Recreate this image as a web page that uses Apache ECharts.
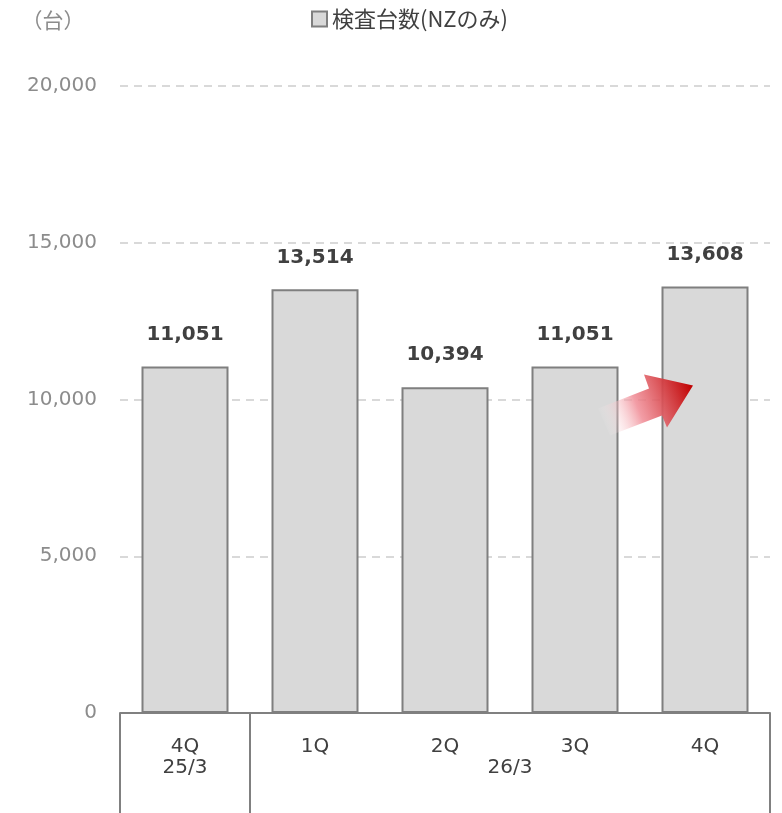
<!DOCTYPE html>
<html>
<head>
<meta charset="utf-8">
<script src="https://cdn.jsdelivr.net/npm/echarts@6/dist/echarts.min.js"></script>
<style>
  html, body { margin: 0; padding: 0; background: #fff; }
  #chart { width: 782px; height: 813px; }
</style>
</head>
<body>
<div id="chart"></div>
<script>
// Quarterly inspection counts (New Zealand only)
const quarters = ['4Q', '1Q', '2Q', '3Q', '4Q'];
const fiscalYears = ['25/3', '26/3'];
const yearSpans = [1, 4];            // number of quarters under each fiscal year
const inspections = [11051, 13514, 10394, 11051, 13608];
const seriesName = '検査台数(NZのみ)';
const unitLabel = '（台）';

const FONT = '"DejaVu Sans", Verdana, "Noto Sans CJK JP", sans-serif';
const JP_FONT = '"Noto Sans CJK JP", "DejaVu Sans", sans-serif';

const chart = echarts.init(document.getElementById('chart'));

chart.setOption({
  animation: false,
  backgroundColor: '#ffffff',
  grid: { left: 120, right: 12, top: 86, bottom: 100, containLabel: false },
  legend: {
    data: [seriesName],
    top: 3,
    left: 306,
    itemWidth: 15,
    itemHeight: 15,
    itemGap: 6,
    icon: 'rect',
    textStyle: { fontFamily: JP_FONT, fontSize: 22, color: '#404040' }
  },
  xAxis: {
    type: 'category',
    data: quarters,
    axisLine: { show: true, lineStyle: { color: '#808080', width: 2 } },
    axisTick: { show: false },
    axisLabel: { margin: 24, fontFamily: FONT, fontSize: 20, color: '#404040' }
  },
  yAxis: {
    type: 'value',
    min: 0,
    max: 20000,
    interval: 5000,
    axisLine: { show: false },
    axisTick: { show: false },
    axisLabel: {
      margin: 23,
      fontFamily: FONT,
      fontSize: 20,
      color: '#8c8c8c',
      formatter: v => v.toLocaleString('en-US')
    },
    splitLine: { lineStyle: { color: '#d9d9d9', type: [8, 6], width: 2 } }
  },
  series: [{
    name: seriesName,
    type: 'bar',
    data: inspections,
    barWidth: 87,
    itemStyle: { color: '#d9d9d9', borderColor: '#7f7f7f', borderWidth: 2 },
    label: {
      show: true,
      position: 'top',
      distance: 22,
      fontFamily: FONT,
      fontSize: 20,
      fontWeight: 'bold',
      color: '#404040',
      formatter: p => p.value.toLocaleString('en-US')
    }
  }]
});

// Second category tier (fiscal years), group dividers, unit label and growth arrow
function drawExtras() {
  const x0 = chart.convertToPixel({ xAxisIndex: 0 }, 0);
  const x1 = chart.convertToPixel({ xAxisIndex: 0 }, 1);
  const band = x1 - x0;
  const axisY = chart.convertToPixel({ yAxisIndex: 0 }, 0);
  const bottom = 813;

  const elements = [];
  let start = 0;
  const boundaries = [x0 - band / 2];
  yearSpans.forEach((span, i) => {
    const left = x0 - band / 2 + start * band;
    const right = left + span * band;
    boundaries.push(right);
    elements.push({
      type: 'text',
      style: {
        text: fiscalYears[i],
        x: (left + right) / 2,
        y: axisY + 55,
        align: 'center',
        verticalAlign: 'middle',
        font: '20px ' + FONT,
        fill: '#404040'
      }
    });
    start += span;
  });
  boundaries.forEach(bx => {
    elements.push({
      type: 'line',
      shape: { x1: bx, y1: axisY, x2: bx, y2: bottom },
      style: { stroke: '#808080', lineWidth: 2 }
    });
  });

  // Unit label at top-left
  elements.push({
    type: 'text',
    style: {
      text: unitLabel,
      x: 53,
      y: 20,
      align: 'center',
      verticalAlign: 'middle',
      font: '21px ' + JP_FONT,
      fill: '#8c8c8c'
    }
  });

  // Rising arrow between the last two quarters
  const xa = chart.convertToPixel({ xAxisIndex: 0 }, 3);
  const xb = chart.convertToPixel({ xAxisIndex: 0 }, 4);
  const yMid = chart.convertToPixel({ yAxisIndex: 0 }, 10000);
  const ox = (xa + xb) / 2 + 6;   // reference point between the bars
  const oy = yMid + 10;
  const pts = [
    [-48, -1], [3, -21], [-2, -35], [47, -24], [21, 18], [16, 6], [-36, 26]
  ].map(p => [ox + p[0], oy + p[1]]);
  elements.push({
    type: 'polygon',
    z: 100,
    shape: { points: pts },
    style: {
      fill: new echarts.graphic.LinearGradient(ox - 44, oy + 14, ox + 47, oy - 22, [
        { offset: 0, color: 'rgba(255,255,255,0)' },
        { offset: 0.4, color: 'rgba(240,140,150,0.85)' },
        { offset: 1, color: '#c00000' }
      ], true)
    }
  });

  chart.setOption({ graphic: { elements } });
}
drawExtras();
</script>
</body>
</html>
